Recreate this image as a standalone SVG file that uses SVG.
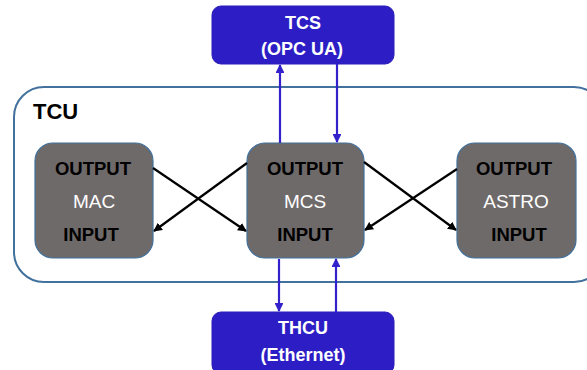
<svg xmlns="http://www.w3.org/2000/svg" width="587" height="370" viewBox="0 0 587 370">
<defs>
<style>
.ext{fill:#2c1ec4;stroke:#2a1cb8;stroke-width:1}
.ext-t{font-family:"Liberation Sans",Arial,sans-serif;font-weight:bold;font-size:18px;fill:#ffffff;text-anchor:middle}
.mod{fill:#6f6a6a;stroke:#41719c;stroke-width:1.2}
.b{font-family:"Liberation Sans",Arial,sans-serif;font-weight:bold;font-size:18.5px;fill:#000000;text-anchor:middle}
.n{font-family:"Liberation Sans",Arial,sans-serif;font-size:19px;fill:#ffffff;text-anchor:middle}
.blue{stroke:#3322cc;stroke-width:2.2;fill:none}
.blk{stroke:#000000;stroke-width:2.2;fill:none}
</style>
<marker id="ab" viewBox="0 0 10 10" refX="9" refY="5" markerWidth="4" markerHeight="4" orient="auto" markerUnits="strokeWidth">
<path d="M0,0 L10,5 L0,10 z" fill="#3322cc"/>
</marker>
<marker id="ak" viewBox="0 0 10 10" refX="9" refY="5" markerWidth="4" markerHeight="4" orient="auto" markerUnits="strokeWidth">
<path d="M0,0 L10,5 L0,10 z" fill="#000000"/>
</marker>
</defs>
<rect width="587" height="370" fill="#ffffff"/>
<g id="TCU">
<rect x="14" y="87" width="590" height="195" rx="30" ry="30" fill="#ffffff" stroke="#41719c" stroke-width="2"/>
<text x="33" y="119" font-family="Liberation Sans,Arial,sans-serif" font-weight="bold" font-size="22" fill="#000">TCU</text>
</g>
<g id="TCS">
<rect class="ext" x="212" y="6" width="182" height="58" rx="9"/>
<text class="ext-t" x="303" y="29">TCS</text>
<text class="ext-t" x="302" y="55">(OPC UA)</text>
</g>
<g id="THCU">
<rect class="ext" x="212" y="312" width="182" height="62" rx="9"/>
<text class="ext-t" x="303" y="334">THCU</text>
<text class="ext-t" x="303" y="361">(Ethernet)</text>
</g>
<g id="MAC">
<rect class="mod" x="35" y="143" width="118" height="115" rx="18"/>
<text class="b" x="93" y="175">OUTPUT</text>
<text class="n" x="94" y="208">MAC</text>
<text class="b" x="91" y="241">INPUT</text>
</g>
<g id="MCS">
<rect class="mod" x="247" y="143" width="117" height="115" rx="18"/>
<text class="b" x="305" y="175">OUTPUT</text>
<text class="n" x="305" y="208">MCS</text>
<text class="b" x="305" y="241">INPUT</text>
</g>
<g id="ASTRO">
<rect class="mod" x="457" y="143" width="119" height="115" rx="18"/>
<text class="b" x="514" y="175">OUTPUT</text>
<text class="n" x="516" y="208">ASTRO</text>
<text class="b" x="519" y="241">INPUT</text>
</g>
<g id="connectors">
<line class="blue" x1="280" y1="143" x2="280" y2="65" marker-end="url(#ab)"/>
<line class="blue" x1="337" y1="64" x2="337" y2="142" marker-end="url(#ab)"/>
<line class="blue" x1="279" y1="259" x2="279" y2="311" marker-end="url(#ab)"/>
<line class="blue" x1="336" y1="312" x2="336" y2="259" marker-end="url(#ab)"/>
<line class="blk" x1="153" y1="168" x2="246" y2="231" marker-end="url(#ak)"/>
<line class="blk" x1="247" y1="163" x2="154" y2="231" marker-end="url(#ak)"/>
<line class="blk" x1="364" y1="162" x2="456" y2="230" marker-end="url(#ak)"/>
<line class="blk" x1="457" y1="169" x2="365" y2="230" marker-end="url(#ak)"/>
</g>
</svg>
